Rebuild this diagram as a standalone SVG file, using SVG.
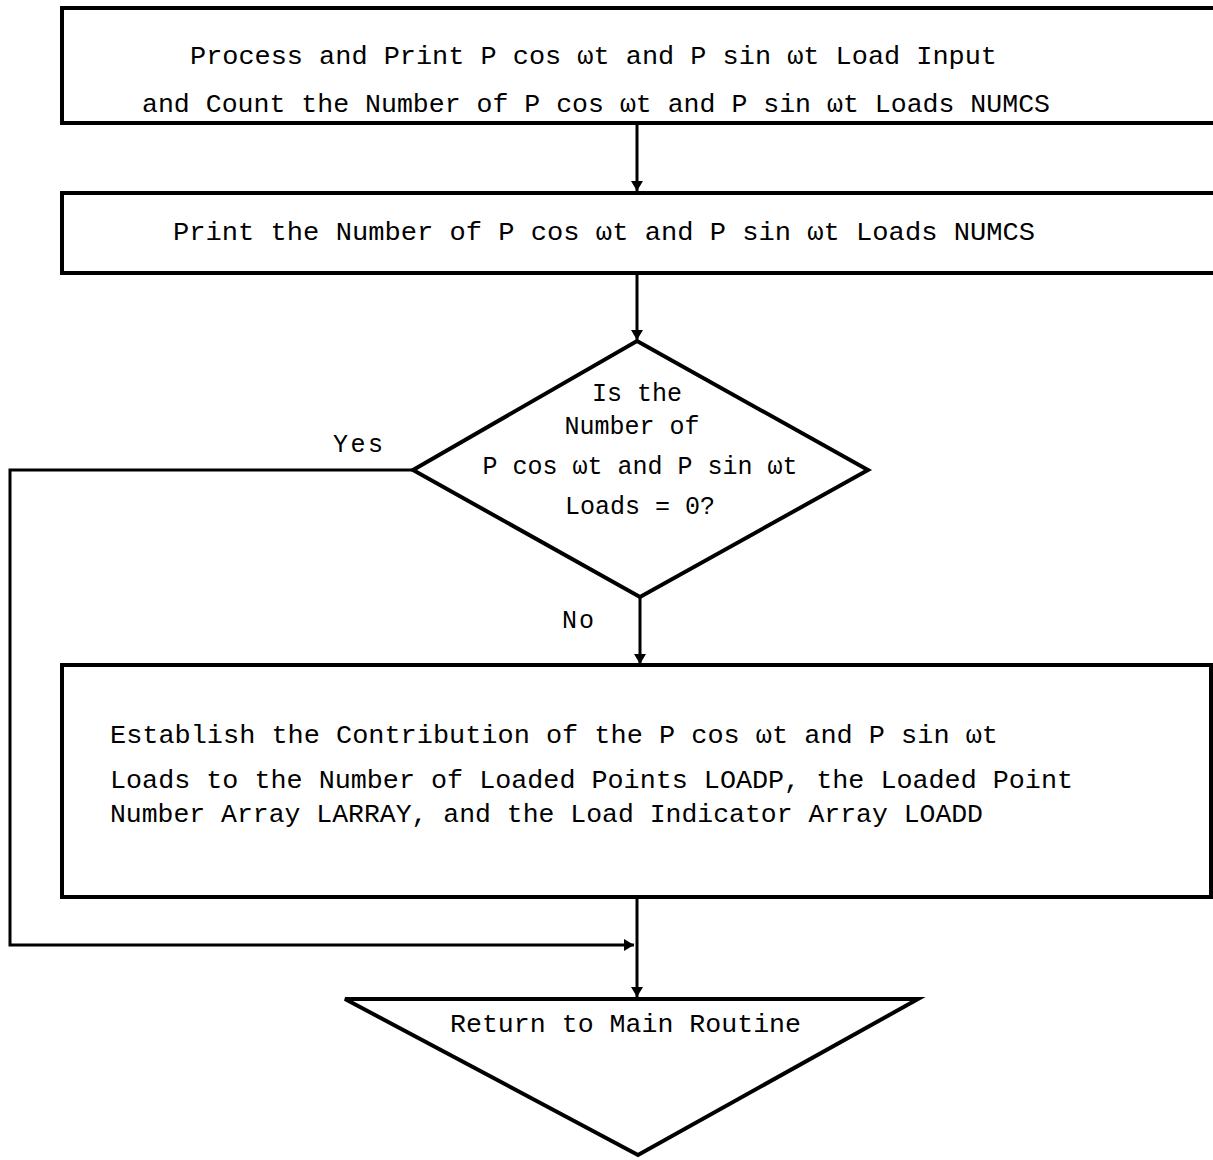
<svg xmlns="http://www.w3.org/2000/svg" width="1213" height="1160" viewBox="0 0 1213 1160">
<style>
.box{fill:#fff;stroke:#000;stroke-width:4}
.t{font-family:"Liberation Mono","DejaVu Sans Mono",monospace;font-size:25px;fill:#000}
.c{text-anchor:middle}
.ln{fill:none;stroke:#000;stroke-width:3}
</style>
<defs>
<marker id="ah" markerWidth="10" markerHeight="16" refX="10" refY="8" orient="auto" markerUnits="userSpaceOnUse">
<path d="M0,2 L10,8 L0,14 Z" fill="#000"/>
</marker>
</defs>
<rect width="1213" height="1160" fill="#fff"/>
<g id="connectors">
<line class="ln" x1="637" y1="124" x2="637" y2="191" marker-end="url(#ah)"/>
<line class="ln" x1="637" y1="274" x2="637" y2="340" marker-end="url(#ah)"/>
<line class="ln" x1="640" y1="597" x2="640" y2="664" marker-end="url(#ah)"/>
<line class="ln" x1="637" y1="898" x2="637" y2="997" marker-end="url(#ah)"/>
<polyline class="ln" points="413,470 10,470 10,945 634,945" marker-end="url(#ah)"/>
<text class="t" x="333" y="452" textLength="50">Yes</text>
<text class="t" x="562" y="628" textLength="32">No</text>
</g>
<g id="process1">
<rect class="box" x="62" y="8" width="1170" height="115"/>
<text class="t" x="190" y="64" textLength="807" lengthAdjust="spacingAndGlyphs">Process and Print  P cos ωt and P sin ωt Load Input</text>
<text class="t" x="142" y="112" textLength="908" lengthAdjust="spacingAndGlyphs">and Count the Number of P cos ωt and P sin ωt Loads NUMCS</text>
</g>
<g id="print2">
<rect class="box" x="62" y="193" width="1170" height="80"/>
<text class="t" x="173" y="240" textLength="862" lengthAdjust="spacingAndGlyphs">Print the Number of  P cos ωt and P sin ωt Loads NUMCS</text>
</g>
<g id="decision">
<polygon class="box" points="637,341 868,470 640,597 413,470"/>
<text class="t c" x="637" y="401">Is the</text>
<text class="t c" x="632" y="434">Number of</text>
<text class="t c" x="640" y="474">P cos ωt and P sin ωt</text>
<text class="t c" x="640" y="514">Loads = 0?</text>
</g>
<g id="establish">
<rect class="box" x="62" y="665" width="1149" height="232"/>
<text class="t" x="110" y="743" textLength="888" lengthAdjust="spacingAndGlyphs">Establish the Contribution of the P cos ωt and P sin ωt</text>
<text class="t" x="110" y="788" textLength="963" lengthAdjust="spacingAndGlyphs">Loads to the Number of Loaded Points LOADP, the Loaded Point</text>
<text class="t" x="110" y="822" textLength="873" lengthAdjust="spacingAndGlyphs">Number Array LARRAY, and the Load Indicator Array LOADD</text>
</g>
<g id="return">
<polygon class="box" points="345,999 918,999 638,1155"/>
<text class="t" x="450" y="1032" textLength="351" lengthAdjust="spacingAndGlyphs">Return to Main Routine</text>
</g>
</svg>
